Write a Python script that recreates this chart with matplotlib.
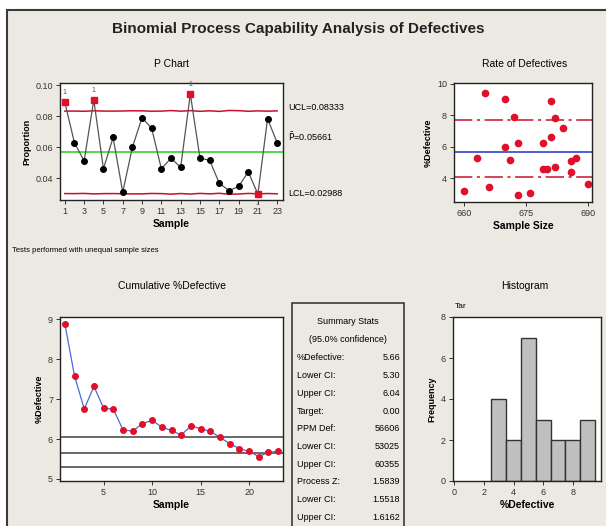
import numpy as np
import matplotlib
matplotlib.use("Agg")
import matplotlib.pyplot as plt
from matplotlib.patches import Rectangle

plt.rcParams['font.family'] = ['Liberation Sans', 'DejaVu Sans']

# data
samples = np.arange(1, 24)
pct_defective = [8.88, 6.27, 5.11, 9.04, 4.60, 6.62, 3.09, 5.99, 7.90, 7.20, 4.60, 5.28,
                 4.70, 9.42, 5.28, 5.15, 3.67, 3.20, 3.46, 4.40, 2.97, 7.83, 6.27]
sample_sizes = [681, 679, 686, 670, 679, 681, 676, 670, 672, 684, 680, 663,
                682, 665, 687, 671, 690, 660, 666, 686, 673, 682, 673]
p_bar = 0.05661
ucl_label = "UCL=0.08333"
lcl_label = "LCL=0.02988"
rate_limits = [7.70, 4.06]
ci_lines = [6.04, 5.66, 5.30]
hist_bins = [2.5, 3.5, 4.5, 5.5, 6.5, 7.5, 8.5, 9.5]
stats_labels = ["%Defective:", "Lower CI:", "Upper CI:", "Target:", "PPM Def:",
                "Lower CI:", "Upper CI:", "Process Z:", "Lower CI:", "Upper CI:"]
stats_values = ["5.66", "5.30", "6.04", "0.00", "56606", "53025", "60355",
                "1.5839", "1.5518", "1.6162"]

W, H = 606, 526
fig = plt.figure(figsize=(W / 100, H / 100), dpi=100)
fig.patch.set_facecolor('white')
BG = '#ECE9E2'
RED = '#E0102A'


def px_axes(left, top, right, bottom):
    return fig.add_axes([left / W, 1 - bottom / H, (right - left) / W, (bottom - top) / H])


def ftext(x, y, s, **kw):
    kw.setdefault('ha', 'center')
    kw.setdefault('va', 'center')
    return fig.text(x / W, 1 - y / H, s, **kw)


# outer frame, kept behind the axes
fig.patches.append(Rectangle((7 / W, -0.05), 1.2, 1.05 - 10 / H, transform=fig.transFigure,
                             facecolor=BG, edgecolor='#3A3A3A', lw=1.5, zorder=-5))


def style(ax):
    ax.set_facecolor('white')
    for sp in ax.spines.values():
        sp.set_color('#222222')
        sp.set_linewidth(1.0)
    ax.tick_params(labelsize=6.5, length=3, width=0.7, colors='#333333', pad=2)


ftext(298, 29, "Binomial Process Capability Analysis of Defectives",
      fontsize=11, fontweight='bold', color='#222222')

# P chart
p = np.array(pct_defective) / 100
n = np.array(sample_sizes)
sig = np.sqrt(p_bar * (1 - p_bar) / n)
ucl = p_bar + 3 * sig
lcl = p_bar - 3 * sig
ax1 = px_axes(60, 83, 283, 200)
style(ax1)
ax1.plot(samples, ucl, color='#C8102E', lw=1.1)
ax1.plot(samples, lcl, color='#C8102E', lw=1.1)
ax1.axhline(p_bar, color='#22CC22', lw=1.1)
ax1.plot(samples, p, color='#555555', lw=0.9, marker='o', ms=4, mfc='black', mec='black')
out = (p > ucl) | (p < lcl)
ax1.plot(samples[out], p[out], 's', color=RED, ms=5)
for s, v, hi in zip(samples[out], p[out], (p > ucl)[out]):
    ax1.text(s, v + (0.004 if hi else -0.004), "1", fontsize=5, ha='center',
             va='bottom' if hi else 'top', color='#555555')
ax1.set_xlim(0.5, 23.6)
ax1.set_ylim(0.0259, 0.1013)
ax1.set_xticks(np.arange(1, 24, 2))
ax1.set_yticks([0.04, 0.06, 0.08, 0.10])
ax1.set_yticklabels(["0.04", "0.06", "0.08", "0.10"])
ax1.set_xlabel("Sample", fontsize=7.5, fontweight='bold', labelpad=2)
ax1.set_ylabel("Proportion", fontsize=6.5, fontweight='bold', labelpad=3)
ftext(172, 64, "P Chart", fontsize=7.5)
ftext(288, 107, ucl_label, fontsize=6.5, ha='left')
ftext(288, 137, r"$\bar{\mathrm{P}}$=0.05661", fontsize=6.5, ha='left')
ftext(288, 193, lcl_label, fontsize=6.5, ha='left')
ftext(12, 250, "Tests performed with unequal sample sizes", fontsize=5.5, ha='left')

# Rate of defectives
ax2 = px_axes(454, 83, 592, 202)
style(ax2)
ax2.axhline(p_bar * 100, color='#2233CC', lw=1.1)
for lim in rate_limits:
    ax2.axhline(lim, color='#C8102E', lw=1.1, dashes=(12, 3, 2, 3))
ax2.plot(sample_sizes, pct_defective, 'o', color=RED, ms=4.5)
ax2.set_xlim(657.5, 691)
ax2.set_ylim(2.5, 10.05)
ax2.set_xticks([660, 675, 690])
ax2.set_yticks([4, 6, 8, 10])
ax2.set_xlabel("Sample Size", fontsize=7.5, fontweight='bold', labelpad=2)
ax2.set_ylabel("%Defective", fontsize=6.5, fontweight='bold', labelpad=3)
ftext(525, 64, "Rate of Defectives", fontsize=7.5)

# Cumulative %defective
d = p * n
cum = np.cumsum(d) / np.cumsum(n) * 100
ax3 = px_axes(60, 317, 283, 481)
style(ax3)
for v in ci_lines:
    ax3.axhline(v, color='#505050', lw=1.2)
ax3.plot(samples, cum, color='#4A6CD4', lw=0.9, marker='o', ms=4, mfc=RED, mec=RED)
ax3.set_xlim(0.5, 23.5)
ax3.set_ylim(4.95, 9.05)
ax3.set_xticks([5, 10, 15, 20])
ax3.set_yticks([5, 6, 7, 8, 9])
ax3.set_xlabel("Sample", fontsize=7.5, fontweight='bold', labelpad=2)
ax3.set_ylabel("%Defective", fontsize=6.5, fontweight='bold', labelpad=3)
ftext(172, 286, "Cumulative %Defective", fontsize=7.5)

# Summary stats box
fig.patches.append(Rectangle((292 / W, -0.05), 112 / W, 1 - 303 / H + 0.05,
                             transform=fig.transFigure, facecolor=BG,
                             edgecolor='#3A3A3A', lw=1.2, zorder=-4))
ftext(348, 322, "Summary Stats", fontsize=6.5)
ftext(348, 340, "(95.0% confidence)", fontsize=6.5)
for i, (lab, val) in enumerate(zip(stats_labels, stats_values)):
    y = 358 + i * 17.7
    ftext(297, y, lab, fontsize=6.5, ha='left')
    ftext(400, y, val, fontsize=6.5, ha='right')

# Histogram
ax4 = px_axes(453, 317, 601, 481)
style(ax4)
ax4.hist(pct_defective, bins=hist_bins, color='#C0C0C0', edgecolor='#333333', lw=1.0)
ax4.set_xlim(-0.1, 9.9)
ax4.set_ylim(0, 8)
ax4.set_xticks([0, 2, 4, 6, 8])
ax4.set_yticks([0, 2, 4, 6, 8])
ax4.set_xlabel("%Defective", fontsize=7.5, fontweight='bold', labelpad=2)
ax4.set_ylabel("Frequency", fontsize=6.5, fontweight='bold', labelpad=3)
ftext(525, 286, "Histogram", fontsize=7.5)
ftext(455, 306, "Tar", fontsize=6, ha='left')

fig.savefig("out.png", dpi=100, facecolor=fig.get_facecolor())
